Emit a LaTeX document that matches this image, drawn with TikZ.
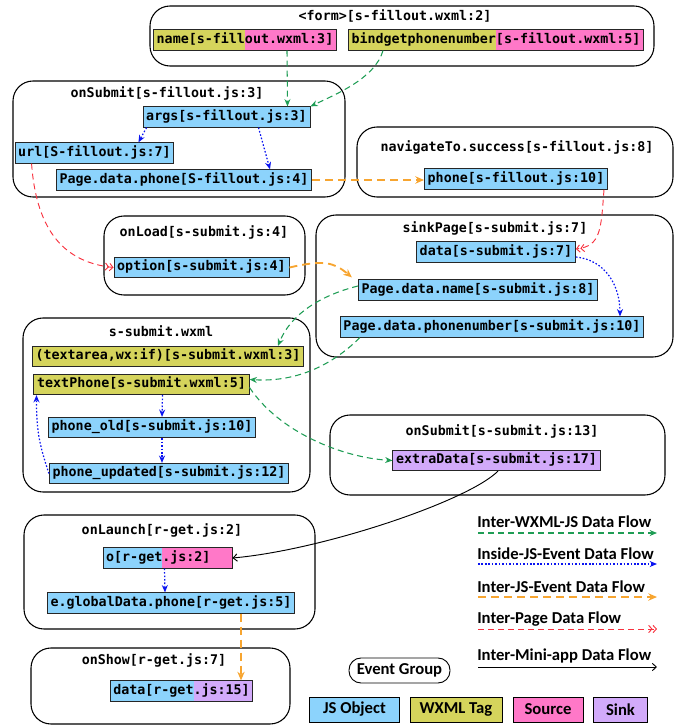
\documentclass[tikz,border=0pt]{standalone}
\usepackage{fontspec}
\usepackage{tikz}
\usetikzlibrary{arrows.meta,calc}
\newfontfamily\codefont{DejaVu Sans Mono}
\newfontfamily\legfont{Carlito}

\definecolor{jsblue}{HTML}{8CD3FC}
\definecolor{tagyellow}{HTML}{D5D45C}
\definecolor{srcpink}{HTML}{FF78C8}
\definecolor{sinkpurple}{HTML}{D2AAFA}
\definecolor{flowgreen}{HTML}{1F9D55}
\definecolor{flowblue}{HTML}{0A14F0}
\definecolor{floworange}{HTML}{F7A530}
\definecolor{flowred}{HTML}{F8323F}

\newlength\chw
\AtBeginDocument{\settowidth\chw{\codefont\bfseries 0}}

\tikzset{
  evgroup/.style={draw, line width=0.8pt, rounded corners=15pt},
  grouptitle/.style={font=\codefont\bfseries, inner sep=0pt},
  obj/.style={draw=black!85, line width=0.7pt, fill=jsblue, font=\codefont\bfseries,
    inner xsep=2.4pt, inner ysep=2.6pt, text height=7.6pt, text depth=2.4pt},
  wxtag/.style={obj, fill=tagyellow},
  sinkobj/.style={obj, fill=sinkpurple},
  splitfill/.style 2 args={path picture={
    \fill[#2] ([xshift=2.4pt+#1*\chw]path picture bounding box.south west)
      rectangle (path picture bounding box.north east);}},
  wflow/.style={flowgreen, line width=0.8pt, dash pattern=on 4.5pt off 3pt,
    -{Stealth[length=5.5pt,width=4.5pt]}},
  iflow/.style={flowblue, line width=0.9pt, dash pattern=on 1.2pt off 1.4pt,
    -{Stealth[length=5.5pt,width=4.5pt]}},
  jflow/.style={floworange, line width=1.4pt, dash pattern=on 6pt off 3.75pt,
    -{Stealth[length=6.5pt,width=5.5pt]}},
  pflow/.style={flowred, line width=0.7pt, dash pattern=on 4.5pt off 3pt,
    -{Straight Barb[length=2.5pt,width=5.5pt]Straight Barb[length=2.5pt,width=5.5pt]}},
  mflow/.style={black, line width=0.7pt, -{Straight Barb[length=3pt,width=5.5pt]}},
  legtext/.style={font=\legfont\bfseries\fontsize{12.5pt}{14pt}\selectfont, inner sep=0pt},
  legbox/.style={legtext, draw, line width=0.7pt, minimum height=18.75pt},
}

\begin{document}
\begin{tikzpicture}[x=0.75pt, y=-0.75pt]
    \useasboundingbox (0,0) rectangle (681,725);

    % event groups
    \draw[evgroup] (150,6) rectangle (654,66);
    \node[grouptitle] (formt) at (395,16) {<form>[s-fillout.wxml:2]};
    \draw[evgroup] (13,81) rectangle (345,197);
    \node[grouptitle] (fsubt) at (167,93) {onSubmit[s-fillout.js:3]};
    \draw[evgroup] (357,127) rectangle (673,197);
    \node[grouptitle] (navt) at (517,147) {navigateTo.success[s-fillout.js:8]};
    \draw[evgroup] (104,216) rectangle (305,295);
    \node[grouptitle] (loadt) at (204,232) {onLoad[s-submit.js:4]};
    \draw[evgroup] (316,215) rectangle (673,357);
    \node[grouptitle] (sinkt) at (495,228) {sinkPage[s-submit.js:7]};
    \draw[evgroup] (23,318) rectangle (310,492);
    \node[grouptitle] (wxmlt) at (161,331) {s-submit.wxml};
    \draw[evgroup] (330,415) rectangle (665,495);
    \node[grouptitle] (ssubt) at (502,431) {onSubmit[s-submit.js:13]};
    \draw[evgroup] (24,515) rectangle (315,629);
    \node[grouptitle] (launcht) at (162,530) {onLaunch[r-get.js:2]};
    \draw[evgroup] (31,648) rectangle (290,724);
    \node[grouptitle] (showt) at (154,660) {onShow[r-get.js:7]};

    % objects and tags
    \node[wxtag, splitfill={11}{srcpink}] (name) at (245,40) {name[s-fillout.wxml:3]};
    \node[wxtag, splitfill={18}{srcpink}] (bindget) at (496,40) {bindgetphonenumber[s-fillout.wxml:5]};
    \node[obj] (args) at (226.5,117) {args[s-fillout.js:3]};
    \node[obj] (url) at (94.5,153) {url[S-fillout.js:7]};
    \node[obj] (pphone) at (184,180) {Page.data.phone[S-fillout.js:4]};
    \node[obj] (phone) at (516,179) {phone[s-fillout.js:10]};
    \node[obj] (option) at (201.5,267.5) {option[s-submit.js:4]};
    \node[obj] (sdata) at (496,252) {data[s-submit.js:7]};
    \node[obj] (pname) at (478,290) {Page.data.name[s-submit.js:8]};
    \node[obj] (pnum) at (492,327) {Page.data.phonenumber[s-submit.js:10]};
    \node[wxtag] (textarea) at (168,356.5) {(textarea,wx:if)[s-submit.wxml:3]};
    \node[wxtag] (textphone) at (141.5,384.5) {textPhone[s-submit.wxml:5]};
    \node[obj] (phold) at (152,427.5) {phone\_old[s-submit.js:10]};
    \node[obj] (phupd) at (169,473.5) {phone\_updated[s-submit.js:12]};
    \node[sinkobj] (extra) at (496.5,460.5) {extraData[s-submit.js:17]};
    \node[obj, text width=92pt, splitfill={7}{srcpink}] (oget) at (167.5,558) {o[r-get.js:2]};
    \node[obj] (gphone) at (171,603) {e.globalData.phone[r-get.js:5]};
    \node[obj, splitfill={10}{sinkpurple}] (rdata) at (181.5,691) {data[r-get.js:15]};

    % inter-wxml-js flows
    \draw[wflow] ($(name.south)+(42,0)$) -- ($(args.north)+(61,0)$);
    \draw[wflow] ($(bindget.south)+(-113,0)$) .. controls +(-8,28) and +(25,-12) .. (args.north east);
    \draw[wflow] ($(pname.west)+(0,-4)$) .. controls +(-40,10) and +(12,-30) .. ($(textarea.north)+(110,0)$);
    \draw[wflow] ($(pnum.south west)+(20,0)$) .. controls +(-25,25) and +(50,3) .. ($(textphone.east)+(0,-5)$);
    \draw[wflow] ($(textphone.east)+(0,3)$) .. controls +(30,45) and +(-50,-3) .. (extra.west);

    % inside-js-event flows
    \draw[iflow] ($(args.south west)+(4,0)$) -- ($(url.north east)+(-36,0)$);
    \draw[iflow] ($(args.south)+(32,0)$) -- ($(pphone.north)+(86,0)$);
    \draw[iflow] ($(sdata.east)+(0,5)$) .. controls +(30,3) and +(0,-30) .. ($(pnum.north)+(128,0)$);
    \draw[iflow] ($(textphone.south)+(21,0)$) -- ($(phold.north)+(10,0)$);
    \draw[iflow] ($(phold.south)+(10,0)$) -- ($(phupd.north)+(-7,0)$);
    \draw[iflow] (phupd.west) .. controls +(-10,-30) and +(0,35) .. ($(textphone.south west)+(3,0)$);
    \draw[iflow] ($(oget.south)+(-3,0)$) -- ($(gphone.north)+(-6,0)$);

    % inter-js-event flows
    \draw[jflow] (pphone.east) -- (pphone.east -| phone.west);
    \draw[jflow] (option.east) .. controls +(35,-8) and +(-18,-15) .. ($(pname.north west)+(-6,-2)$);
    \draw[jflow] ($(gphone.south)+(70,0)$) -- ($(rdata.north)+(59.5,0)$);

    % inter-page flows
    \draw[pflow] ($(url.south west)+(17,0)$) .. controls +(5,70) and +(-47,-5) .. (option.west);
    \draw[pflow] ($(phone.south)+(88,0)$) .. controls +(-3,40) and +(25,-3) .. ($(sdata.east)+(0,-3)$);

    % inter-mini-app flow
    \draw[mflow] ($(extra.south)+(1.5,0)$) .. controls +(-30,30) and +(90,-8) .. (oget.east);

    % legend
    \node[legtext, anchor=west] (lwxml) at (477,522) {Inter-WXML-JS Data Flow};
    \node[legtext, anchor=west] (linside) at (477,554) {Inside-JS-Event Data Flow};
    \node[legtext, anchor=west] (ljs) at (477,587) {Inter-JS-Event Data Flow};
    \node[legtext, anchor=west] (lpage) at (477,619) {Inter-Page Data Flow};
    \node[legtext, anchor=west] (lmini) at (477,656) {Inter-Mini-app Data Flow};
    \coordinate (lwa) at (478,533); \coordinate (lwb) at (657,533);
    \coordinate (lia) at (478,564); \coordinate (lib) at (657,564);
    \coordinate (lja) at (478,597); \coordinate (ljb) at (657,597);
    \coordinate (lpa) at (478,629); \coordinate (lpb) at (657,629);
    \coordinate (lma) at (478,667); \coordinate (lmb) at (657,667);
    \draw[wflow] (lwa) -- (lwb);
    \draw[iflow] (lia) -- (lib);
    \draw[jflow] (lja) -- (ljb);
    \draw[pflow] (lpa) -- (lpb);
    \draw[mflow] (lma) -- (lmb);

    \node[legbox, rounded corners=9pt, minimum width=75.75pt] (lgroup) at (399.5,670.5) {Event Group};
    \node[legbox, fill=jsblue, minimum width=68pt] (ljsobj) at (354.5,709.5) {JS Object};
    \node[legbox, fill=tagyellow, minimum width=69pt] (ltag) at (456,709.5) {WXML Tag};
    \node[legbox, fill=srcpink, minimum width=52.5pt] (lsrc) at (548,709.5) {Source};
    \node[legbox, fill=sinkpurple, minimum width=41pt] (lsink) at (620.5,709.5) {Sink};
\end{tikzpicture}
\end{document}
